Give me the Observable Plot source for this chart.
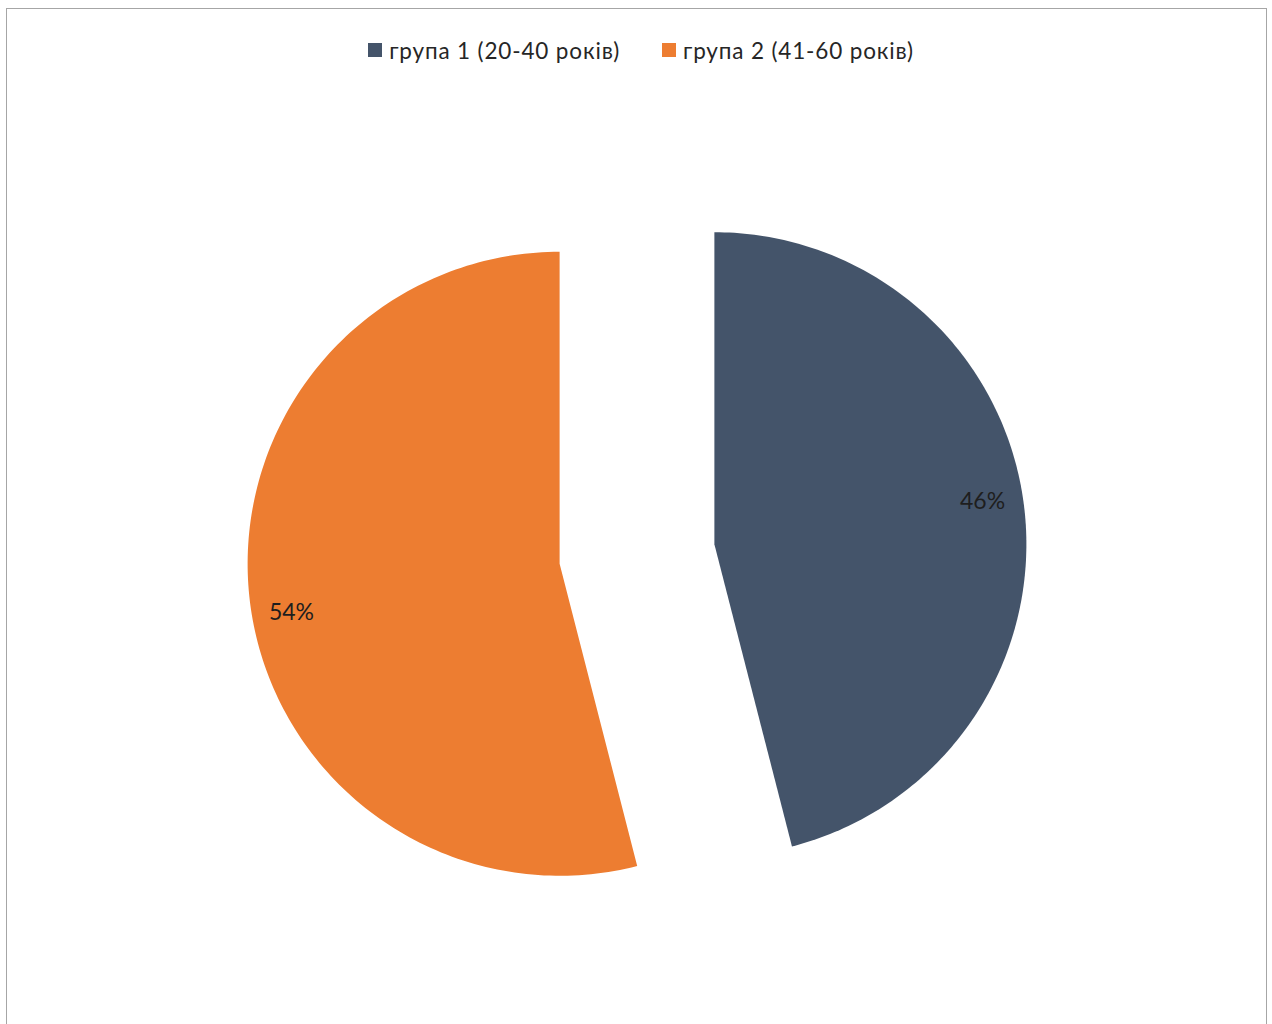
<!DOCTYPE html>
<html>
<head>
<meta charset="utf-8">
<script src="https://cdn.jsdelivr.net/npm/d3@7"></script>
<script src="https://cdn.jsdelivr.net/npm/@observablehq/plot@0.6"></script>
<style>
  html, body { margin: 0; padding: 0; background: #fff; }
  #frame { position: absolute; left: 6px; top: 8px; width: 1261px; height: 1030px; border: 1.5px solid #a6a6a6; border-bottom: none; box-sizing: border-box; }
  #legend { position: absolute; top: 36px; left: 0; width: 1272px; height: 28px; display: flex; justify-content: center; gap: 42px; font-family: Lato, "Open Sans", sans-serif; font-size: 22.5px; letter-spacing: 0.85px; color: #262626; padding-left: 10px; box-sizing: border-box;}
  .item { display: flex; align-items: center; }
  .sw { width: 14px; height: 14px; margin-right: 7px; }
  #chart { position: absolute; left: 0; top: 0; }
</style>
</head>
<body>
<div id="frame"></div>
<div id="legend"></div>
<div id="chart"></div>
<script>
const categories = ["група 1 (20-40 років)", "група 2 (41-60 років)"];
const values = [46, 54];
const labels = ["46%", "54%"];
const colors = ["#44546A", "#ED7D31"];

const explode = 0.25;
const labelR = 0.872;
const labelTurn = -2.5 * Math.PI / 180;
const total = d3.sum(values);

// legend
const legend = d3.select("#legend");
categories.forEach((c, i) => {
  const it = legend.append("div").attr("class", "item");
  it.append("div").attr("class", "sw").style("background", colors[i]);
  it.append("span").text(c);
});

// slice geometry from values (angles clockwise from 12 o'clock)
let acc = 0;
const slices = values.map((v, i) => {
  const a0 = acc / total * 2 * Math.PI;
  acc += v;
  const a1 = acc / total * 2 * Math.PI;
  const mid = (a0 + a1) / 2;
  const ox = explode * Math.sin(mid), oy = explode * Math.cos(mid);
  const pts = [{x: ox, y: oy}];
  const n = 180;
  for (let k = 0; k <= n; k++) {
    const a = a0 + (a1 - a0) * k / n;
    pts.push({x: ox + Math.sin(a), y: oy + Math.cos(a)});
  }
  pts.push({x: ox, y: oy});
  const la = mid + labelTurn;
  return {cat: categories[i], color: colors[i], pts,
          lx: ox + labelR * Math.sin(la), ly: oy + labelR * Math.cos(la), label: labels[i]};
});

const R = 312, cx = 636.5, cy = 553.5, W = 1272, H = 1024;

const plot = Plot.plot({
  width: W, height: H,
  margin: 0,
  x: {domain: [-cx / R, (W - cx) / R], axis: null},
  y: {domain: [-(H - cy) / R, cy / R], axis: null},
  marks: [
    ...slices.map(s => Plot.line(s.pts, {x: "x", y: "y", fill: s.color, stroke: "none", curve: "linear"})),
    Plot.text(slices, {x: "lx", y: "ly", text: "label", fill: "#1e1e1e", fontSize: 23, dy: 3.5, fontFamily: "Lato, 'Open Sans', sans-serif"})
  ],
  style: {background: "transparent"}
});
document.getElementById("chart").appendChild(plot);
</script>
</body>
</html>
